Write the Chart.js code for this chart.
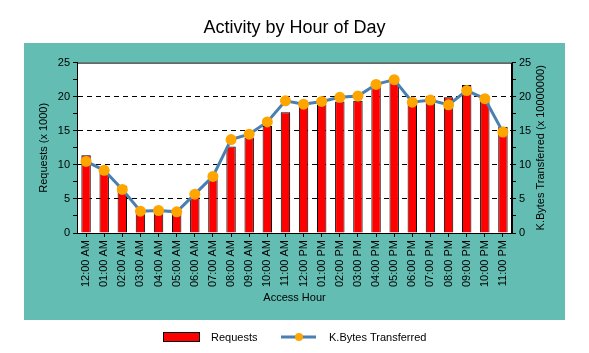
<!DOCTYPE html>
<html>
<head>
<meta charset="utf-8">
<script src="https://cdn.jsdelivr.net/npm/chart.js@4/dist/chart.umd.min.js"></script>
<style>
  body { margin: 0; background: #fff; }
</style>
</head>
<body>
<canvas id="hours" width="589" height="353"></canvas>
<script>
const hours = ['12:00 AM', '01:00 AM', '02:00 AM', '03:00 AM', '04:00 AM', '05:00 AM',
  '06:00 AM', '07:00 AM', '08:00 AM', '09:00 AM', '10:00 AM', '11:00 AM',
  '12:00 PM', '01:00 PM', '02:00 PM', '03:00 PM', '04:00 PM', '05:00 PM',
  '06:00 PM', '07:00 PM', '08:00 PM', '09:00 PM', '10:00 PM', '11:00 PM'];

// requests, in thousands
const requests = [11.4, 9.3, 6.9, 3.1, 3.1, 3.4, 5.3, 8.0, 12.7, 14.0, 15.7, 17.7,
  18.7, 18.9, 19.3, 19.4, 21.5, 22.7, 19.3, 20.1, 19.9, 21.7, 20.1, 15.6];

// kbytes transferred, in units of 10000000
const kbytes = [10.5, 9.2, 6.4, 3.2, 3.3, 3.1, 5.7, 8.3, 13.7, 14.5, 16.3, 19.4,
  18.9, 19.3, 19.9, 20.1, 21.8, 22.5, 19.2, 19.5, 18.8, 20.9, 19.7, 14.8];

const yTicks = [0, 5, 10, 15, 20, 25];

const TEAL = '#63bdb3';
const LINE = '#4a7fb1';
const DOT = '#ffa500';
const FONT = 'Liberation Sans, Arial, sans-serif';

const framePlugin = {
  id: 'frame',
  beforeDraw(chart) {
    const { ctx, chartArea: a } = chart;
    ctx.save();
    ctx.fillStyle = TEAL;
    ctx.fillRect(24, 43, 541, 277);
    ctx.fillStyle = '#fff';
    ctx.fillRect(a.left, a.top, a.right - a.left, a.bottom - a.top);
    ctx.restore();
  },
  afterDraw(chart) {
    const { ctx, chartArea: a } = chart;
    ctx.save();
    ctx.strokeStyle = '#000';
    ctx.lineWidth = 1;
    ctx.strokeRect(a.left + 0.5, a.top + 0.5, a.right - a.left - 1, a.bottom - a.top);

    // right axis title, reads bottom to top
    ctx.fillStyle = '#000';
    ctx.font = '11px ' + FONT;
    ctx.textAlign = 'center';
    ctx.textBaseline = 'middle';
    ctx.translate(541, (a.top + a.bottom) / 2);
    ctx.rotate(-Math.PI / 2);
    ctx.fillText('K.Bytes Transferred (x 10000000)', 0, 0);
    ctx.restore();

    // legend
    const ds = chart.data.datasets;
    ctx.save();
    ctx.font = '11px ' + FONT;
    ctx.textBaseline = 'middle';
    ctx.fillStyle = '#ff0000';
    ctx.fillRect(163, 332, 37, 10);
    ctx.strokeStyle = '#000';
    ctx.strokeRect(163.5, 332.5, 36, 9);
    ctx.fillStyle = '#000';
    ctx.fillText(ds[1].label, 211, 337.5);
    ctx.strokeStyle = LINE;
    ctx.lineWidth = 3;
    ctx.beginPath();
    ctx.moveTo(281, 337);
    ctx.lineTo(316, 337);
    ctx.stroke();
    ctx.fillStyle = DOT;
    ctx.beginPath();
    ctx.arc(299, 337, 4, 0, Math.PI * 2);
    ctx.fill();
    ctx.fillStyle = '#000';
    ctx.fillText(ds[0].label, 329, 337.5);
    ctx.restore();
  }
};

function yAxis(position, showTitle) {
  return {
    type: 'linear',
    position: position,
    min: 0,
    max: 25,
    afterFit(scale) { scale.width = 53; },
    ticks: {
      stepSize: 2.5,
      color: '#000',
      padding: 3,
      font: { family: FONT, size: 11 },
      callback: v => yTicks.includes(v) ? String(v) : ''
    },
    grid: {
      drawOnChartArea: position === 'left',
      tickLength: 4,
      tickColor: '#000',
      color: ctx => {
        const v = ctx.tick ? ctx.tick.value : 0;
        return (v % 5 === 0 && v > 0 && v < 25) ? '#000' : 'rgba(0,0,0,0)';
      }
    },
    border: { display: true, color: '#000', dash: [5, 4] },
    title: {
      display: showTitle,
      text: 'Requests (x 1000)',
      color: '#000',
      font: { family: FONT, size: 11 },
      padding: { top: 13, bottom: 0 }
    }
  };
}

new Chart(document.getElementById('hours'), {
  data: {
    labels: hours,
    datasets: [
      {
        type: 'line',
        label: 'K.Bytes Transferred',
        data: kbytes,
        yAxisID: 'y1',
        borderColor: LINE,
        borderWidth: 3,
        tension: 0,
        pointRadius: 5.5,
        pointBackgroundColor: DOT,
        pointBorderWidth: 0,
        order: 0
      },
      {
        type: 'bar',
        label: 'Requests',
        data: requests,
        yAxisID: 'y',
        backgroundColor: '#ff0000',
        borderColor: '#000',
        borderWidth: 1,
        barPercentage: 0.52,
        categoryPercentage: 1,
        order: 1
      }
    ]
  },
  options: {
    responsive: false,
    animation: false,
    layout: { padding: { left: 24, right: 24, top: 0, bottom: 33 } },
    plugins: {
      legend: { display: false },
      tooltip: { enabled: false },
      title: {
        display: true,
        text: 'Activity by Hour of Day',
        color: '#000',
        font: { family: FONT, size: 18, weight: 'normal' },
        padding: { top: 17, bottom: 24 }
      }
    },
    scales: {
      x: {
        type: 'category',
        afterFit(scale) { scale.height = 87; },
        ticks: {
          color: '#000',
          padding: 3,
          autoSkip: false,
          minRotation: 90,
          maxRotation: 90,
          font: { family: FONT, size: 11 }
        },
        grid: {
          offset: false,
          drawOnChartArea: false,
          tickLength: 4,
          tickColor: '#000'
        },
        border: { display: true, color: '#000' },
        title: {
          display: true,
          text: 'Access Hour',
          color: '#000',
          font: { family: FONT, size: 11 },
          padding: { top: 0, bottom: 15 }
        }
      },
      y: yAxis('left', true),
      y1: yAxis('right', false)
    }
  },
  plugins: [framePlugin]
});
</script>
</body>
</html>
